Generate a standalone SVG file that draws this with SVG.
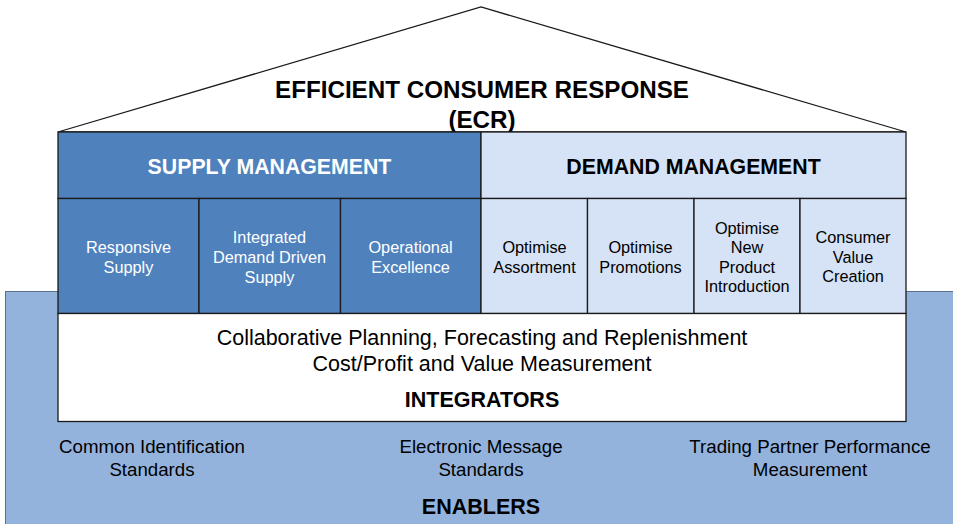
<svg xmlns="http://www.w3.org/2000/svg" width="953" height="524" viewBox="0 0 953 524">
<style>
text{font-family:"Liberation Sans",Arial,sans-serif;text-anchor:middle}
.b{font-weight:bold}
.ln{stroke:#1a1a1a;stroke-width:1.3}
.sup{fill:#4F81BD}
.dem{fill:#D6E2F5}
.w{fill:#ffffff}
.k{fill:#000000}
.cell{font-size:16.3px}
.big{font-size:21.5px}
.en{font-size:18.7px}
.hd{font-size:21.3px}
</style>
<rect width="953" height="524" fill="#ffffff"/>
<g id="enablers">
<rect x="5.5" y="291.5" width="950" height="240" fill="#93B3DD" stroke="#5a6f8c" stroke-width="1"/>
<text class="en k" x="152" y="453">Common Identification</text>
<text class="en k" x="152" y="476">Standards</text>
<text class="en k" x="481" y="453">Electronic Message</text>
<text class="en k" x="481" y="476">Standards</text>
<text class="en k" x="810" y="453">Trading Partner Performance</text>
<text class="en k" x="810" y="476">Measurement</text>
<text class="big b k" x="481" y="514">ENABLERS</text>
</g>
<g id="roof">
<polygon points="58,132 481,7 906,132" fill="#ffffff" class="ln"/>
<text class="b k" font-size="24.2" x="482" y="98">EFFICIENT CONSUMER RESPONSE</text>
<text class="b k" font-size="24.2" x="482" y="128">(ECR)</text>
</g>
<g id="supply-management">
<rect x="58" y="132" width="423" height="66.5" class="sup ln"/>
<text class="hd b w" x="269.5" y="174">SUPPLY MANAGEMENT</text>
</g>
<g id="demand-management">
<rect x="481" y="132" width="425" height="66.5" class="dem ln"/>
<text class="hd b k" x="693.5" y="174">DEMAND MANAGEMENT</text>
</g>
<g id="responsive-supply">
<rect x="58" y="198.5" width="141" height="115" class="sup ln"/>
<text class="cell w" x="128.5" y="253">Responsive</text>
<text class="cell w" x="128.5" y="273">Supply</text>
</g>
<g id="integrated-demand-driven-supply">
<rect x="199" y="198.5" width="141.5" height="115" class="sup ln"/>
<text class="cell w" x="269.5" y="243">Integrated</text>
<text class="cell w" x="269.5" y="263">Demand Driven</text>
<text class="cell w" x="269.5" y="283">Supply</text>
</g>
<g id="operational-excellence">
<rect x="340.5" y="198.5" width="140.5" height="115" class="sup ln"/>
<text class="cell w" x="410.5" y="253">Operational</text>
<text class="cell w" x="410.5" y="273">Excellence</text>
</g>
<g id="optimise-assortment">
<rect x="481" y="198.5" width="106.5" height="115" class="dem ln"/>
<text class="cell k" x="534.5" y="253">Optimise</text>
<text class="cell k" x="534.5" y="273">Assortment</text>
</g>
<g id="optimise-promotions">
<rect x="587.5" y="198.5" width="106.5" height="115" class="dem ln"/>
<text class="cell k" x="640.5" y="253">Optimise</text>
<text class="cell k" x="640.5" y="273">Promotions</text>
</g>
<g id="optimise-new-product-introduction">
<rect x="694" y="198.5" width="106" height="115" class="dem ln"/>
<text class="cell k" x="747" y="234">Optimise</text>
<text class="cell k" x="747" y="253">New</text>
<text class="cell k" x="747" y="273">Product</text>
<text class="cell k" x="747" y="292">Introduction</text>
</g>
<g id="consumer-value-creation">
<rect x="800" y="198.5" width="106" height="115" class="dem ln"/>
<text class="cell k" x="853" y="243">Consumer</text>
<text class="cell k" x="853" y="263">Value</text>
<text class="cell k" x="853" y="282">Creation</text>
</g>
<g id="integrators">
<rect x="58" y="313.5" width="848" height="108" fill="#ffffff" class="ln"/>
<text class="big k" x="482" y="345">Collaborative Planning, Forecasting and Replenishment</text>
<text class="big k" x="482" y="371">Cost/Profit and Value Measurement</text>
<text class="big b k" x="482" y="407">INTEGRATORS</text>
</g>
<g id="connectors"></g>
</svg>
